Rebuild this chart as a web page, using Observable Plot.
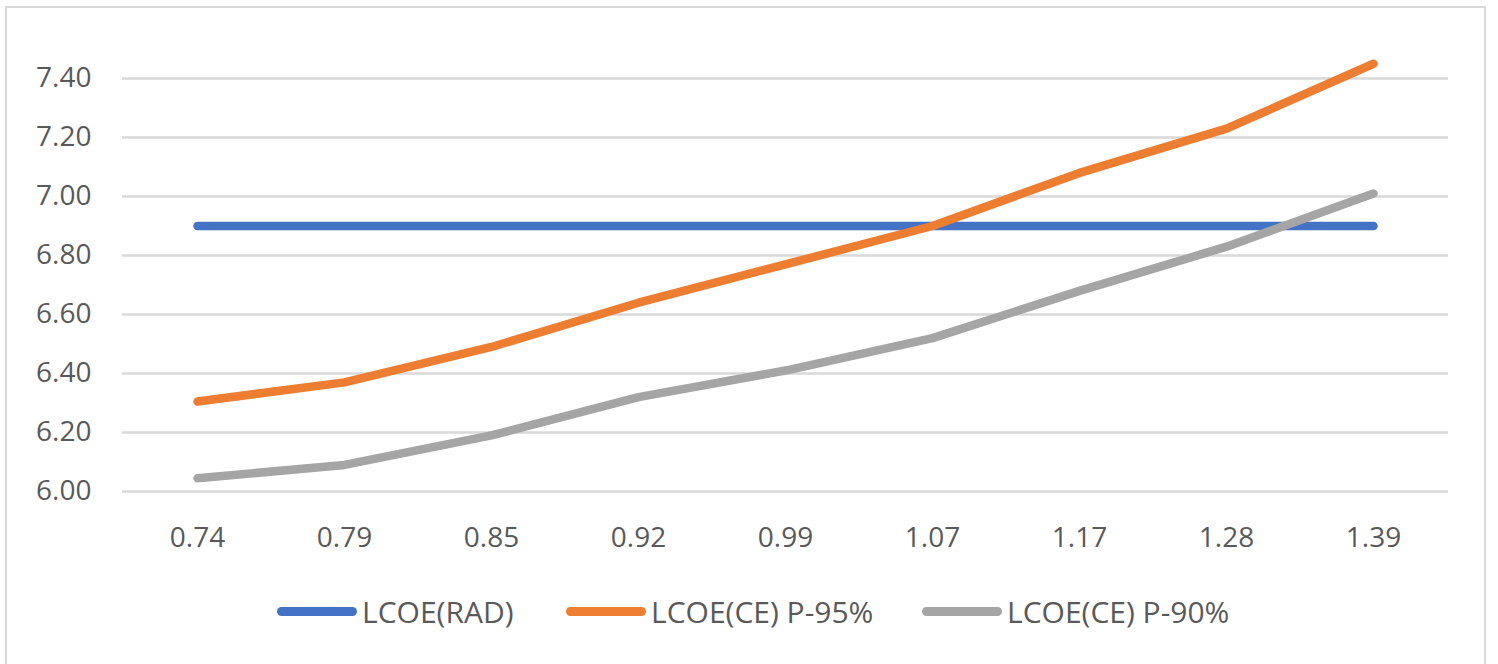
<!DOCTYPE html>
<html>
<head>
<meta charset="utf-8">
<script src="https://cdn.jsdelivr.net/npm/d3@7"></script>
<script src="https://cdn.jsdelivr.net/npm/@observablehq/plot@0.6"></script>
<style>
  html, body { margin: 0; padding: 0; background: #fff; }
  #wrap { position: relative; width: 1498px; height: 664px; overflow: hidden; font-family: "Open Sans", sans-serif; }
  #frame { position: absolute; left: 5px; top: 6px; width: 1481px; height: 670px; border: 2.5px solid #d9d9d9; box-sizing: border-box; }
  #chart { position: absolute; left: 0; top: 0; }
  #legend { position: absolute; top: 589px; left: 0; width: 1498px; height: 44px; }
  .item { position: absolute; top: 0; display: flex; align-items: center; height: 44px; color: #595959; font-size: 30px; }
  .sw { width: 80px; height: 9px; border-radius: 5px; margin-right: 5px; }
</style>
</head>
<body>
<div id="wrap">
  <div id="frame"></div>
  <div id="chart"></div>
  <div id="legend"></div>
</div>
<script>
const categories = ["0.74", "0.79", "0.85", "0.92", "0.99", "1.07", "1.17", "1.28", "1.39"];
const seriesNames = ["LCOE(RAD)", "LCOE(CE) P-95%", "LCOE(CE) P-90%"];
const lcoeRad  = [6.90, 6.90, 6.90, 6.90, 6.90, 6.90, 6.90, 6.90, 6.90];
const lcoeP95  = [6.305, 6.37, 6.49, 6.64, 6.77, 6.90, 7.08, 7.23, 7.45];
const lcoeP90  = [6.045, 6.09, 6.19, 6.32, 6.41, 6.52, 6.68, 6.83, 7.01];
const yTicks   = [6.0, 6.2, 6.4, 6.6, 6.8, 7.0, 7.2, 7.4];
const colors   = ["#4472C4", "#ED7D31", "#A5A5A5"];

const seriesValues = [lcoeRad, lcoeP95, lcoeP90];
const data = [];
seriesNames.forEach((s, si) => categories.forEach((c, i) => data.push({series: s, cat: c, value: seriesValues[si][i]})));

const chart = Plot.plot({
  width: 1498,
  height: 664,
  marginLeft: 122,
  marginRight: 50,
  marginTop: 19,
  marginBottom: 173,
  style: {fontFamily: "'Open Sans', sans-serif", fontSize: "28px", color: "#595959", background: "transparent", overflow: "visible"},
  x: {type: "point", domain: categories, padding: 0.5, label: null, tickSize: 0, tickPadding: 36},
  y: {domain: [6.0, 7.6], ticks: yTicks, tickFormat: d => d.toFixed(2), label: null, tickSize: 0, tickPadding: 31},
  color: {domain: seriesNames, range: colors},
  marks: [
    Plot.ruleY(yTicks, {stroke: "#d9d9d9", strokeWidth: 2.5}),
    Plot.line(data, {x: "cat", y: "value", z: "series", stroke: "series", strokeWidth: 8.5, strokeLinecap: "round", strokeLinejoin: "round", curve: "linear"})
  ]
});
chart.querySelectorAll("text").forEach(t => t.setAttribute("fill", "#595959"));
document.getElementById("chart").appendChild(chart);

const legend = document.getElementById("legend");
const lefts = [277, 566, 922];
seriesNames.forEach((s, i) => {
  const d = document.createElement("div");
  d.className = "item";
  d.style.left = lefts[i] + "px";
  const sw = document.createElement("div");
  sw.className = "sw";
  sw.style.background = colors[i];
  const t = document.createElement("span");
  t.textContent = s;
  d.appendChild(sw); d.appendChild(t);
  legend.appendChild(d);
});
</script>
</body>
</html>
